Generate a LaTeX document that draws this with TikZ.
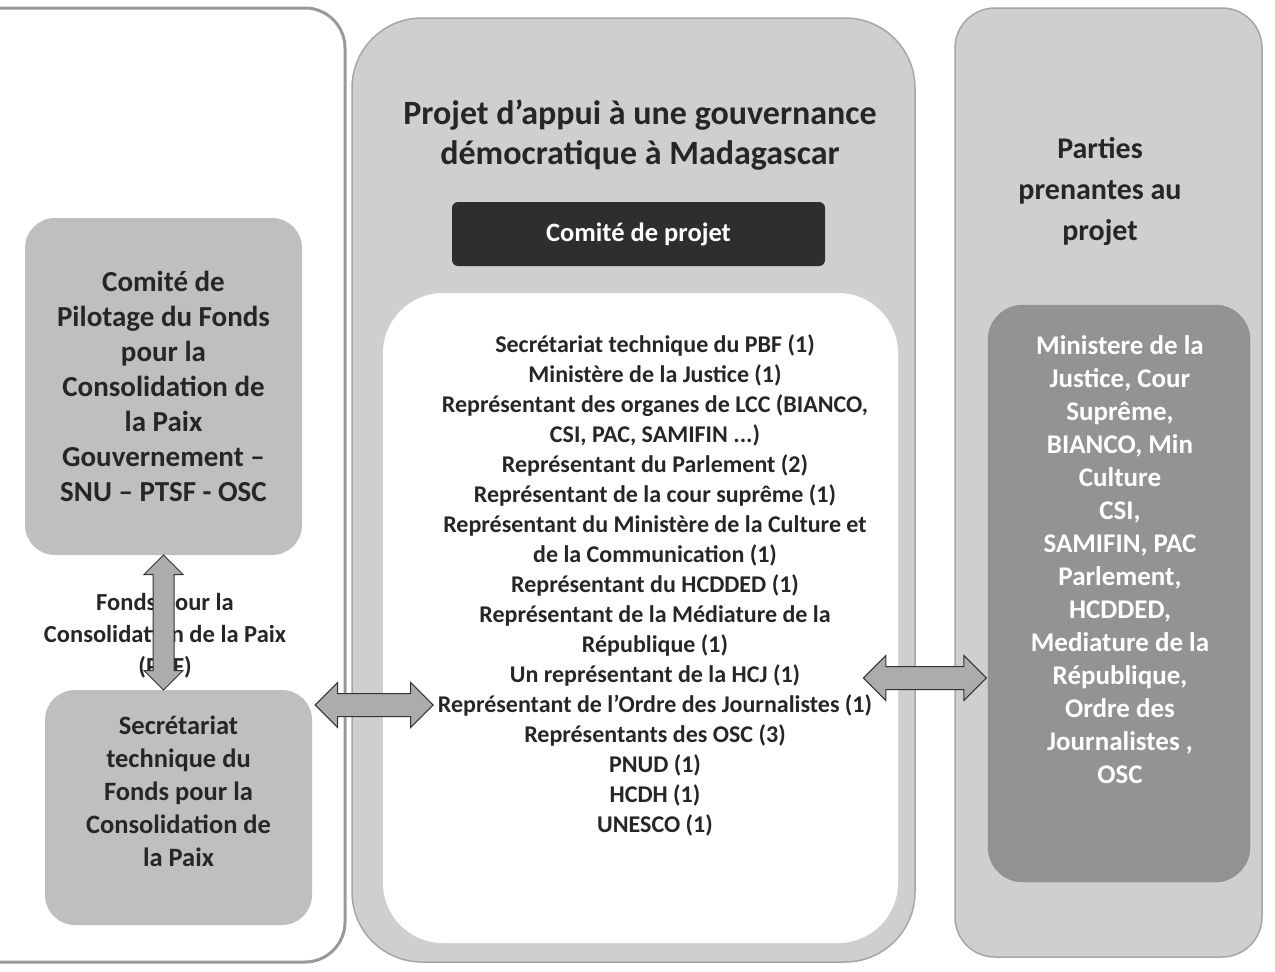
\documentclass[tikz,border=0pt]{standalone}
\usepackage{fontspec}
\setmainfont{Carlito}
\usetikzlibrary{calc, shapes.arrows}

\begin{document}
\begin{tikzpicture}[x=1pt, y=-1pt,
panel/.style={draw=gray!70, line width=1.5pt, fill=gray!38, rounded corners=40pt, inner sep=0pt},
greybox/.style={fill=gray!50, rounded corners=30pt, inner sep=0pt},
txt/.style={align=center, text=black!85, inner sep=0pt},
fatarrow/.style={double arrow, draw=black!80, fill=gray!65, line width=1pt,
    double arrow head extend=11pt, inner xsep=0pt, inner ysep=11pt}]
\useasboundingbox (0,0) rectangle (1275,972);

% left column
\node[panel, fill=white, draw=gray!80, line width=3pt, minimum width=385pt, minimum height=954pt] (gauche) at (152.5,485) {};
\node[greybox, minimum width=277pt, minimum height=337pt] (pilotage) at (163.5,386.5) {};
\node[txt, font=\bfseries\fontsize{29}{35}\selectfont] at (pilotage) {Comité de\\Pilotage du Fonds\\pour la\\Consolidation de\\la Paix\\Gouvernement --\\SNU -- PTSF - OSC};
\node[greybox, minimum width=267pt, minimum height=235pt] (secretariat) at (178.5,807.5) {};
\node[txt, font=\bfseries\fontsize{26.5}{33}\selectfont] at (178.5,791) {Secrétariat\\technique du\\Fonds pour la\\Consolidation de\\la Paix};
\node[txt, font=\bfseries\fontsize{24.5}{32}\selectfont] (pbf) at (165,636) {Fonds pour la\\Consolidation de la Paix\\(PBF)};

% project column
\node[panel, rounded corners=70pt, minimum width=563pt, minimum height=944pt] (projet) at (633.5,490) {};
\node[txt, font=\bfseries\fontsize{34}{40}\selectfont] (titre) at (640,135) {Projet d'appui à une gouvernance\\démocratique à Madagascar};
\node[fill=black!82, rounded corners=6pt, minimum width=373pt, minimum height=64pt, text=white,
    font=\bfseries\fontsize{26.5}{30}\selectfont] (comite) at (638.5,234) {Comité de projet};
\node[fill=white, rounded corners=60pt, minimum width=515pt, minimum height=650pt] (blanc) at (640.5,618) {};
\node[txt, font=\bfseries\fontsize{24}{30}\selectfont] (membres) at (655,585) {Secrétariat technique du PBF (1)\\
Ministère de la Justice (1)\\
Représentant des organes de LCC (BIANCO,\\
CSI, PAC, SAMIFIN ...)\\
Représentant du Parlement (2)\\
Représentant de la cour suprême (1)\\
Représentant du Ministère de la Culture et\\
de la Communication (1)\\
Représentant du HCDDED (1)\\
Représentant de la Médiature de la\\
République (1)\\
Un représentant de la HCJ (1)\\
Représentant de l'Ordre des Journalistes (1)\\
Représentants des OSC (3)\\
PNUD (1)\\
HCDH (1)\\
UNESCO (1)};

% stakeholders column
\node[panel, minimum width=307pt, minimum height=949pt] (parties) at (1108.5,482.5) {};
\node[txt, font=\bfseries\fontsize{30}{41}\selectfont] at (1100,191) {Parties\\prenantes au\\projet};
\node[fill=gray!85, draw=gray!95, rounded corners=35pt, minimum width=262pt, minimum height=577pt] (acteurs) at (1119,593.5) {};
\node[txt, text=white, font=\bfseries\fontsize{27}{33}\selectfont] at (1120,560) {Ministere de la\\Justice, Cour\\Suprême,\\BIANCO, Min\\Culture\\CSI,\\SAMIFIN, PAC\\Parlement,\\HCDDED,\\Mediature de la\\République,\\Ordre des\\Journalistes ,\\OSC};

% arrows
\node[fatarrow, rotate=90, minimum height=135pt, inner ysep=10pt, double arrow head extend=9pt]
    at ($(pilotage.south)!0.5!(pilotage.south |- secretariat.north)$) {};
\node[fatarrow, minimum height=118pt] at ($(secretariat.east |- 0,705)!0.5!(436,705)$) {};
\node[fatarrow, minimum height=123pt] at ($(862,678)!0.5!(acteurs.west |- 0,678)$) {};
\end{tikzpicture}
\end{document}
